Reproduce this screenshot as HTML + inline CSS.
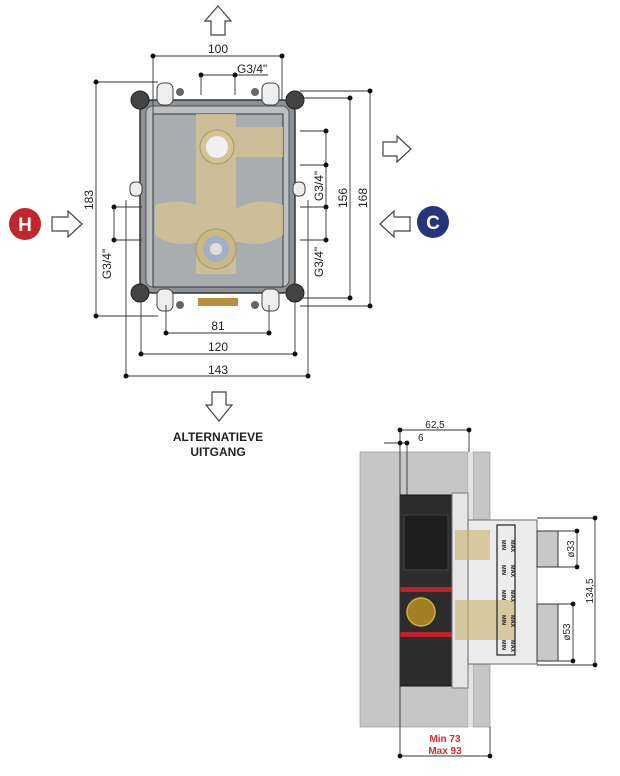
<!DOCTYPE html>
<html><head><meta charset="utf-8"><style>
html,body{margin:0;padding:0;background:#fff}
svg{display:block}
text{font-family:"Liberation Sans",sans-serif;fill:#222}
</style></head><body>
<svg width="620" height="776" viewBox="0 0 620 776" xmlns="http://www.w3.org/2000/svg">
<!-- arrows -->
<g fill="#fff" stroke="#444" stroke-width="1.2">
<path d="M211,35 V21 H205 L218,6 L231,21 H225 V35 Z"/>
<path d="M212,392 V405 H206 L219,421 L232,405 H226 V392 Z"/>
<path d="M52,217 H68 V211 L82,224 L68,237 V231 H52 Z"/>
<path d="M410,217 H394 V211 L380,224 L394,237 V231 H410 Z"/>
<path d="M383,142 H397 V136 L411,149 L397,162 V156 H383 Z"/>
</g>
<circle cx="25" cy="224" r="16" fill="#c0272d"/>
<text x="25" y="231" font-size="19" font-weight="bold" text-anchor="middle" style="fill:#fff">H</text>
<circle cx="433" cy="222" r="16" fill="#27337a"/>
<text x="433" y="229" font-size="19" font-weight="bold" text-anchor="middle" style="fill:#fff">C</text>

<rect x="140" y="100" width="155" height="193" rx="12" fill="#8d9296" stroke="#333" stroke-width="1.5"/>
<rect x="146" y="106" width="143" height="181" rx="7" fill="#bcc0c3" stroke="#555"/>
<rect x="153" y="114" width="130" height="173" fill="#a9adb0" stroke="#333"/>
<g fill="#d2c294" opacity="0.85">
<rect x="196" y="114" width="40" height="160"/>
<rect x="236" y="127" width="47" height="30"/>
<path d="M155,205 Q190,195 210,215 L205,240 Q175,250 155,235 Z"/>
<path d="M283,205 Q250,195 228,215 L232,240 Q262,250 283,235 Z"/>
</g>
<circle cx="217" cy="147" r="17" fill="#d4c396" stroke="#a89868"/>
<circle cx="217" cy="147" r="11" fill="#eef0f2"/>
<circle cx="216" cy="249" r="20" fill="#c9b888" stroke="#a89868"/>
<circle cx="216" cy="249" r="13" fill="#9fb0c8"/>
<circle cx="216" cy="249" r="6" fill="#e0e0d8"/>
<g fill="#444" stroke="#222">
<circle cx="140" cy="100" r="9"/><circle cx="295" cy="100" r="9"/>
<circle cx="140" cy="293" r="9"/><circle cx="295" cy="293" r="9"/>
</g>
<g fill="#eee" stroke="#444">
<rect x="157" y="83" width="16" height="22" rx="6"/><rect x="262" y="83" width="17" height="22" rx="6"/>
<rect x="157" y="289" width="16" height="22" rx="6"/><rect x="262" y="289" width="17" height="22" rx="6"/>
<rect x="130" y="182" width="12" height="14" rx="5"/><rect x="293" y="182" width="12" height="14" rx="5"/>
</g>
<g fill="#666"><circle cx="180" cy="92" r="4"/><circle cx="255" cy="92" r="4"/><circle cx="180" cy="305" r="4"/><circle cx="255" cy="305" r="4"/></g>
<rect x="198" y="298" width="40" height="8" fill="#b8903e"/>

<g stroke="#333" stroke-width="0.9" fill="none">
<path d="M153,56 H282 M153,56 V114 M282,56 V100"/>
<path d="M201,75 H235 M201,75 V95 M235,75 V95 M235,75 H268"/>
<path d="M96,82 V316 M96,82 H158 M96,316 H158"/>
<path d="M300,98 H350 V298 H300"/>
<path d="M300,91 H370 V306 H300"/>
<path d="M300,131 H326 V240 M300,165 H326 M300,207 H326 M300,240 H326"/>
<path d="M114,207 H142 M114,240 H142 M114,207 V240"/>
<path d="M166,305 V333 H269 V305"/>
<path d="M141,300 V354 H295 V300"/>
<path d="M126,200 V376 H308 V200"/>
</g>
<g fill="#111">
<circle cx="153" cy="56" r="2.5"/><circle cx="282" cy="56" r="2.5"/>
<circle cx="201" cy="75" r="2.5"/><circle cx="235" cy="75" r="2.5"/>
<circle cx="96" cy="82" r="2.5"/><circle cx="96" cy="316" r="2.5"/>
<circle cx="350" cy="98" r="2.5"/><circle cx="350" cy="298" r="2.5"/>
<circle cx="370" cy="91" r="2.5"/><circle cx="370" cy="306" r="2.5"/>
<circle cx="326" cy="131" r="2.5"/><circle cx="326" cy="165" r="2.5"/><circle cx="326" cy="207" r="2.5"/><circle cx="326" cy="240" r="2.5"/>
<circle cx="114" cy="207" r="2.5"/><circle cx="114" cy="240" r="2.5"/>
<circle cx="166" cy="333" r="2.5"/><circle cx="269" cy="333" r="2.5"/>
<circle cx="141" cy="354" r="2.5"/><circle cx="295" cy="354" r="2.5"/>
<circle cx="126" cy="376" r="2.5"/><circle cx="308" cy="376" r="2.5"/>
</g>
<g font-size="12">
<text x="218" y="53" text-anchor="middle">100</text>
<text x="237" y="73">G3/4"</text>
<text x="218" y="330" text-anchor="middle">81</text>
<text x="218" y="351" text-anchor="middle">120</text>
<text x="218" y="374" text-anchor="middle">143</text>
<text transform="translate(93,200) rotate(-90)" text-anchor="middle">183</text>
<text transform="translate(347,198) rotate(-90)" text-anchor="middle">156</text>
<text transform="translate(367,198) rotate(-90)" text-anchor="middle">168</text>
<text transform="translate(323,186) rotate(-90)" text-anchor="middle">G3/4"</text>
<text transform="translate(323,262) rotate(-90)" text-anchor="middle">G3/4"</text>
<text transform="translate(111,264) rotate(-90)" text-anchor="middle">G3/4"</text>
</g>
<text x="218" y="441" font-size="12" font-weight="bold" text-anchor="middle">ALTERNATIEVE</text>
<text x="218" y="456" font-size="12" font-weight="bold" text-anchor="middle">UITGANG</text>

<rect x="360" y="452" width="108" height="275" fill="#c6c6c6" stroke="#888" stroke-width="0.6"/>
<rect x="473" y="452" width="17" height="275" fill="#c6c6c6" stroke="#888" stroke-width="0.6"/>
<rect x="468" y="452" width="5" height="275" fill="#e4e4e4"/>
<rect x="400" y="495" width="52" height="191" fill="#2c2c2c" stroke="#111"/>
<rect x="404" y="515" width="44" height="55" fill="#1e1e1e" stroke="#444"/>
<rect x="400" y="587" width="52" height="5" fill="#c02028"/>
<rect x="400" y="632" width="52" height="5" fill="#c02028"/>
<circle cx="421" cy="612" r="14" fill="#a08020" stroke="#d0b040" stroke-width="1.5"/>
<rect x="452" y="493" width="16" height="195" fill="#e6e6e6" stroke="#777"/>
<rect x="468" y="520" width="69" height="144" fill="#ececec" stroke="#666"/>
<rect x="455" y="530" width="35" height="30" fill="#c9b070" opacity="0.6"/>
<rect x="455" y="600" width="60" height="40" fill="#c9b070" opacity="0.6"/>
<rect x="497" y="525" width="18" height="130" fill="none" stroke="#222" stroke-width="1.2"/>
<g font-size="5.5" font-weight="bold" fill="#111">
<text transform="translate(502,540) rotate(90)">MIN</text><text transform="translate(511,540) rotate(90)">MAX</text>
<text transform="translate(502,565) rotate(90)">MIN</text><text transform="translate(511,565) rotate(90)">MAX</text>
<text transform="translate(502,590) rotate(90)">MIN</text><text transform="translate(511,590) rotate(90)">MAX</text>
<text transform="translate(502,615) rotate(90)">MIN</text><text transform="translate(511,615) rotate(90)">MAX</text>
<text transform="translate(502,640) rotate(90)">MIN</text><text transform="translate(511,640) rotate(90)">MAX</text>
</g>
<rect x="537" y="531" width="21" height="36" fill="#c8c8c8" stroke="#333"/>
<rect x="537" y="604" width="21" height="57" fill="#c8c8c8" stroke="#333"/>
<g stroke="#333" stroke-width="0.9" fill="none">
<path d="M400,430 H469 M400,430 V720 M469,430 V452"/>
<path d="M384,443 H407 M407,443 V495"/>
<path d="M400,720 V756 H490 V727"/>
<path d="M537,518 H595 V665 H537"/>
<path d="M558,531 H577 V567 H558"/>
<path d="M558,604 H573 V661 H558"/>
</g>
<g fill="#111">
<circle cx="400" cy="430" r="2.4"/><circle cx="469" cy="430" r="2.4"/>
<circle cx="400" cy="443" r="2.4"/><circle cx="407" cy="443" r="2.4"/>
<circle cx="400" cy="756" r="2.4"/><circle cx="490" cy="756" r="2.4"/>
<circle cx="595" cy="518" r="2.4"/><circle cx="595" cy="665" r="2.4"/>
<circle cx="577" cy="531" r="2.4"/><circle cx="577" cy="567" r="2.4"/>
<circle cx="573" cy="604" r="2.4"/><circle cx="573" cy="661" r="2.4"/>
</g>
<g font-size="10">
<text x="435" y="428" text-anchor="middle">62,5</text>
<text x="418" y="441">6</text>
<text transform="translate(593,591) rotate(-90)" text-anchor="middle">134,5</text>
<text transform="translate(574,549) rotate(-90)" text-anchor="middle">ø33</text>
<text transform="translate(570,632) rotate(-90)" text-anchor="middle">ø53</text>
</g>
<text x="445" y="742" font-size="10" font-weight="bold" text-anchor="middle" style="fill:#d62b2b">Min 73</text>
<text x="445" y="754" font-size="10" font-weight="bold" text-anchor="middle" style="fill:#d62b2b">Max 93</text>
</svg>
</body></html>
